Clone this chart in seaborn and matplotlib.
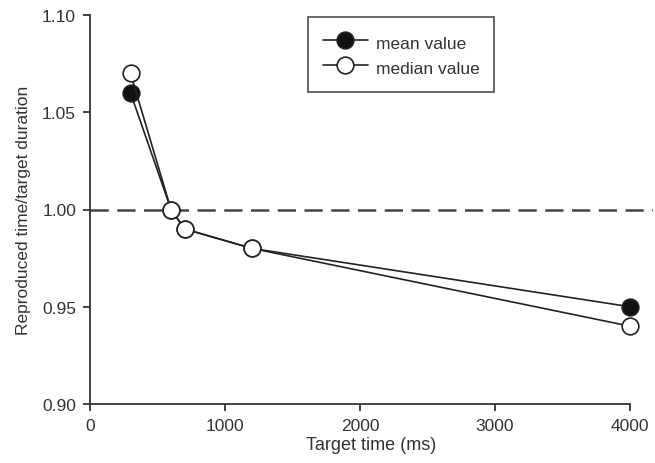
import matplotlib
matplotlib.use("Agg")
import matplotlib.pyplot as plt
import seaborn as sns
import pandas as pd

target_ms = [300, 600, 700, 1200, 4000]
mean_ratio = [1.06, 1.00, 0.99, 0.98, 0.95]
median_ratio = [1.07, 1.00, 0.99, 0.98, 0.94]
x_ticks = [0, 1000, 2000, 3000, 4000]
y_ticks = [0.90, 0.95, 1.00, 1.05, 1.10]

sns.set_style("ticks")
plt.rcParams["font.family"] = ["Liberation Sans", "DejaVu Sans"]

df = pd.DataFrame({"target": target_ms, "mean": mean_ratio, "median": median_ratio})

fig = plt.figure(figsize=(6.55, 4.64), dpi=100)
ax = fig.add_axes([90 / 655, 1 - 405 / 464, 563 / 655, (405 - 16) / 464])

ax.axhline(1.0, color="#444444", lw=1.8, ls=(0, (7.3, 3.4)), zorder=1)

sns.lineplot(data=df, x="target", y="mean", ax=ax, color="#222222", lw=1.2,
             marker="o", markersize=12, markerfacecolor="#111111",
             markeredgecolor="#222222", markeredgewidth=1.2,
             label="mean value", zorder=3)
sns.lineplot(data=df, x="target", y="median", ax=ax, color="#222222", lw=1.2,
             marker="o", markersize=12, markerfacecolor="white",
             markeredgecolor="#222222", markeredgewidth=1.2,
             label="median value", zorder=4)

ax.set_xlim(0, 4170)
ax.set_ylim(0.90, 1.10)
ax.set_xticks(x_ticks)
ax.set_yticks(y_ticks)
ax.set_yticklabels([f"{v:.2f}" for v in y_ticks])
ax.spines["top"].set_visible(False)
ax.spines["right"].set_visible(False)
ax.spines["bottom"].set_bounds(0, 4000)
for s in ("left", "bottom"):
    ax.spines[s].set_linewidth(1.3)
    ax.spines[s].set_color("#333333")
ax.tick_params(direction="out", length=5, width=1.3, colors="#333333",
               labelsize=12.5, labelcolor="#333333", pad=5)

ax.set_xlabel("Target time (ms)", fontsize=13, color="#333333", labelpad=2)
ax.set_ylabel("Reproduced time/target duration", fontsize=12.5, color="#333333", labelpad=8)

leg = ax.legend(loc="upper left", bbox_to_anchor=((308 - 90) / 563, 1.0 - 2 / 389),
                frameon=True, fancybox=False, edgecolor="#333333", fontsize=12.5,
                handlelength=2.6, handletextpad=0.45, borderpad=0.85,
                handleheight=1.5, labelspacing=0.2, borderaxespad=0)
leg.get_frame().set_linewidth(1.3)
for t in leg.get_texts():
    t.set_color("#333333")

fig.savefig("out.png", dpi=100)
